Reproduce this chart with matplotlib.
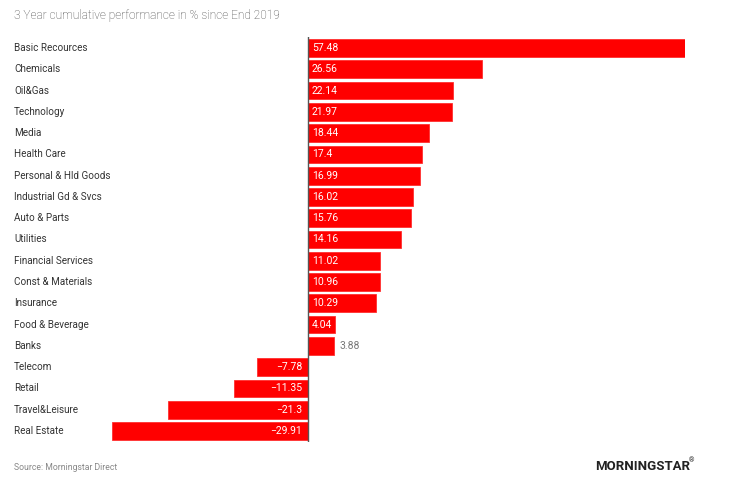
import matplotlib.pyplot as plt
from matplotlib.transforms import blended_transform_factory

sectors = [
    "Basic Recources", "Chemicals", "Oil&Gas", "Technology", "Media",
    "Health Care", "Personal & Hld Goods", "Industrial Gd & Svcs",
    "Auto & Parts", "Utilities", "Financial Services", "Const & Materials",
    "Insurance", "Food & Beverage", "Banks", "Telecom", "Retail",
    "Travel&Leisure", "Real Estate",
]
performance = [
    57.48, 26.56, 22.14, 21.97, 18.44, 17.4, 16.99, 16.02, 15.76, 14.16,
    11.02, 10.96, 10.29, 4.04, 3.88, -7.78, -11.35, -21.3, -29.91,
]
value_labels = [
    "57.48", "26.56", "22.14", "21.97", "18.44", "17.4", "16.99", "16.02",
    "15.76", "14.16", "11.02", "10.96", "10.29", "4.04", "3.88", "\u22127.78",
    "\u221211.35", "\u221221.3", "\u221229.91",
]

plt.rcParams["font.family"] = ["Roboto", "DejaVu Sans"]

fig = plt.figure(figsize=(7.44, 5.0), dpi=100)
fig.patch.set_facecolor("white")
ax = fig.add_axes([112 / 744, 1 - 441.6 / 500, (685 - 112) / 744, 404.2 / 500])

pos = list(range(len(sectors)))
ax.barh(pos, performance, height=0.83, color="#ff0000", edgecolor="#ff3030",
        linewidth=0.6)
ax.set_xlim(min(performance), max(performance))
ax.set_ylim(len(sectors) - 0.5, -0.5)
ax.axvline(0, color="#555555", lw=1.0)
ax.axis("off")

trans = blended_transform_factory(fig.transFigure, ax.transData)
for i, (name, val, lab) in enumerate(zip(sectors, performance, value_labels)):
    ax.text(14 / 744, i, name, transform=trans, ha="left", va="center",
            fontsize=7.1, color="#333333")
    if val < 0:
        ax.text(-0.9, i, lab, ha="right", va="center", fontsize=7.5,
                color="white")
    elif val < 4.0:
        ax.text(val + 0.9, i, lab, ha="left", va="center", fontsize=7.5,
                color="#777777")
    else:
        ax.text(0.6, i, lab, ha="left", va="center", fontsize=7.5,
                color="white")

fig.text(14 / 744, 1 - 15 / 500, "3 Year cumulative performance in % since End 2019",
         ha="left", va="center", fontsize=8.6, color="#444444", fontweight="light")
fig.text(14 / 744, 1 - 467 / 500, "Source: Morningstar Direct", ha="left",
         va="center", fontsize=6.2, color="#888888")
fig.text(595 / 744, 1 - 466 / 500, "MORNINGSTAR", ha="left", va="center",
         fontsize=9.5, color="#222222", fontweight="bold")
fig.text(689 / 744, 1 - 461 / 500, "\u00ae", ha="left", va="center",
         fontsize=5, color="#222222")

fig.savefig("out.png", dpi=100)
